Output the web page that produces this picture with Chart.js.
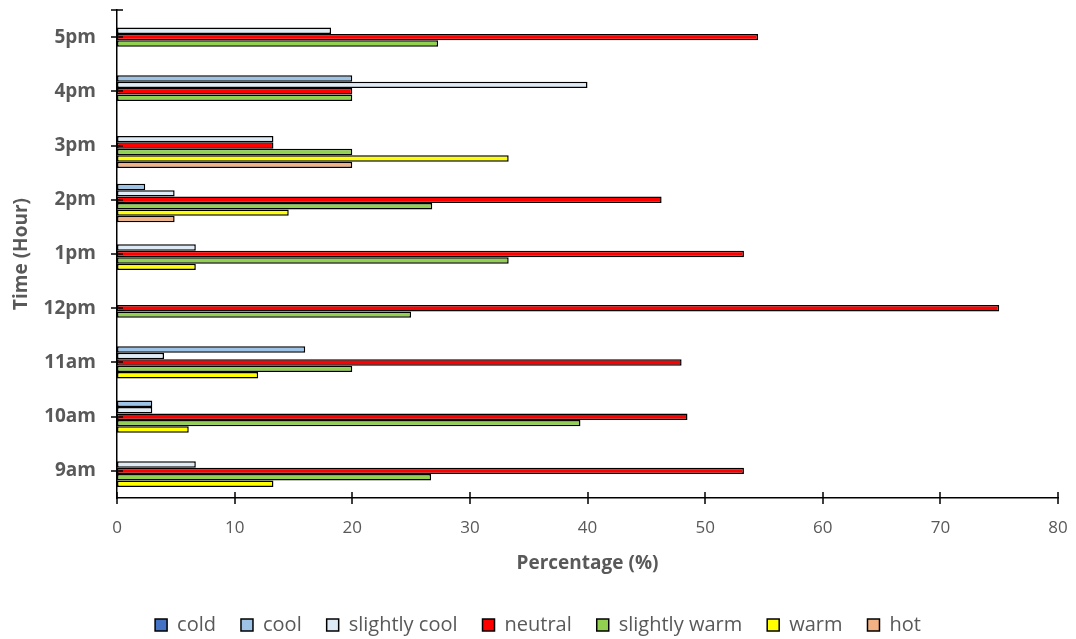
<!DOCTYPE html>
<html>
<head>
<meta charset="utf-8">
<script src="https://cdn.jsdelivr.net/npm/chart.js@4.4.1/dist/chart.umd.min.js"></script>
<style>
  html, body { margin: 0; padding: 0; background: #fff; }
  #wrap { width: 1076px; height: 639px; }
</style>
</head>
<body>
<div id="wrap"><canvas id="chart"></canvas></div>
<script>
// categories (bottom to top in the picture)
const hours = ['9am', '10am', '11am', '12pm', '1pm', '2pm', '3pm', '4pm', '5pm'];

// percentage of answers per thermal sensation
const cold         = [0, 0, 0, 0, 0, 0, 0, 0, 0];
const cool         = [0, 3.0, 16.0, 0, 0, 2.4, 0, 20.0, 0];
const slightlyCool = [6.7, 3.0, 4.0, 0, 6.7, 4.9, 13.3, 40.0, 18.2];
const neutral      = [53.3, 48.5, 48.0, 75.0, 53.3, 46.3, 13.3, 20.0, 54.5];
const slightlyWarm = [26.7, 39.4, 20.0, 25.0, 33.3, 26.8, 20.0, 20.0, 27.3];
const warm         = [13.3, 6.1, 12.0, 0, 6.7, 14.6, 33.3, 0, 0];
const hot          = [0, 0, 0, 0, 0, 4.9, 20.0, 0, 0];

const xTicks = [0, 10, 20, 30, 40, 50, 60, 70, 80];

const GREY = '#595959';
const FONT = "'Open Sans', sans-serif";

function makeSet(label, data, color) {
  return {
    label: label,
    data: data,
    backgroundColor: color,
    borderColor: '#000',
    borderWidth: 1.5,
    borderSkipped: false,
    categoryPercentage: 0.83,
    barPercentage: 1
  };
}

// tick marks crossing the axis lines, like the original
const crossTicks = {
  id: 'crossTicks',
  afterDatasetsDraw(chart) {
    const { ctx, chartArea, scales } = chart;
    ctx.save();
    ctx.strokeStyle = '#000';
    ctx.lineWidth = 1.5;
    ctx.beginPath();
    scales.x.ticks.forEach((t, i) => {
      const px = Math.round(scales.x.getPixelForTick(i));
      ctx.moveTo(px, chartArea.bottom - 6);
      ctx.lineTo(px, chartArea.bottom + 6);
    });
    scales.y.ticks.forEach((t, i) => {
      const py = Math.round(scales.y.getPixelForTick(i));
      ctx.moveTo(chartArea.left - 6, py);
      ctx.lineTo(chartArea.left + 6, py);
    });
    ctx.moveTo(chartArea.left - 6, chartArea.top);
    ctx.lineTo(chartArea.left + 6, chartArea.top);
    ctx.stroke();
    ctx.restore();
  }
};

new Chart(document.getElementById('chart'), {
  type: 'bar',
  data: {
    labels: hours,
    datasets: [
      makeSet('cold', cold, '#4472C4'),
      makeSet('cool', cool, '#9DC3E6'),
      makeSet('slightly cool', slightlyCool, '#DEEBF7'),
      makeSet('neutral', neutral, '#FF0000'),
      makeSet('slightly warm', slightlyWarm, '#92D050'),
      makeSet('warm', warm, '#FFFF00'),
      makeSet('hot', hot, '#F4B183')
    ]
  },
  options: {
    indexAxis: 'y',
    responsive: true,
    maintainAspectRatio: false,
    animation: false,
    layout: { padding: { top: 10, right: 0, bottom: -6, left: 0 } },
    plugins: {
      tooltip: { enabled: false },
      legend: {
        position: 'bottom',
        labels: {
          color: GREY,
          font: { family: FONT, size: 20 },
          boxWidth: 12,
          boxHeight: 12,
          padding: 25
        }
      }
    },
    scales: {
      x: {
        min: 0,
        max: 80,
        afterBuildTicks: s => { s.ticks = xTicks.map(v => ({ value: v })); },
        afterFit: s => { s.height = 92; s.paddingLeft = 0; s.paddingRight = 18; },
        grid: { display: false, drawTicks: false },
        border: { display: true, color: '#000', width: 1.5 },
        ticks: { color: GREY, font: { family: FONT, size: 17 }, padding: 20 },
        title: {
          display: true,
          text: 'Percentage (%)',
          color: GREY,
          font: { family: FONT, size: 19, weight: 'bold' },
          padding: { top: 0, bottom: 15 }
        }
      },
      y: {
        reverse: true,
        offset: true,
        afterFit: s => { s.width = 117; s.paddingTop = 0; s.paddingBottom = 0; },
        grid: { display: false, drawTicks: false },
        border: { display: true, color: '#000', width: 1.5 },
        ticks: { color: GREY, font: { family: FONT, size: 19, weight: 'bold' }, padding: 21 },
        title: {
          display: true,
          text: 'Time (Hour)',
          color: GREY,
          font: { family: FONT, size: 19, weight: 'bold' },
          padding: { top: 10, bottom: 8 }
        }
      }
    }
  },
  plugins: [crossTicks]
});
</script>
</body>
</html>
